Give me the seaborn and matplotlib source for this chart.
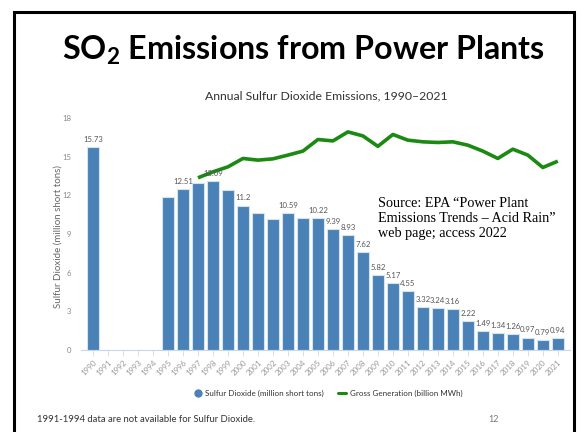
import numpy as np
import pandas as pd
import matplotlib
matplotlib.use("Agg")
import matplotlib.pyplot as plt
from matplotlib.lines import Line2D
from matplotlib.patches import Rectangle
import seaborn as sns

# Annual SO2 emissions (million short tons); 1991-1994 not available
years = list(range(1990, 2022))
so2 = [15.73, np.nan, np.nan, np.nan, np.nan, 11.87, 12.51, 12.96, 13.09, 12.45,
       11.2, 10.63, 10.19, 10.59, 10.26, 10.22, 9.39, 8.93, 7.62, 5.82,
       5.17, 4.55, 3.32, 3.24, 3.16, 2.22, 1.49, 1.34, 1.26, 0.97,
       0.79, 0.94]
# Bars that carry a value label
labelled_years = [1990, 1996, 1998, 2000, 2003, 2005, 2006, 2007, 2008, 2009,
                  2010, 2011, 2012, 2013, 2014, 2015, 2016, 2017, 2018, 2019,
                  2020, 2021]

# Gross generation trend, drawn on the chart's vertical scale
gen_years = list(range(1997, 2022))
gen = [13.36, 13.82, 14.21, 14.86, 14.73, 14.83, 15.12, 15.43, 16.33, 16.22,
       16.92, 16.61, 15.80, 16.72, 16.28, 16.15, 16.10, 16.15, 15.89, 15.43,
       14.86, 15.58, 15.12, 14.16, 14.65]

y_ticks = [0, 3, 6, 9, 12, 15, 18]

BAR = "#4a81b6"
GREEN = "#1a8a12"
GRID_GRAY = "#888888"

sns.set_style("white")
plt.rcParams["font.family"] = ["Lato", "DejaVu Sans"]
plt.rcParams["mathtext.fontset"] = "custom"
plt.rcParams["mathtext.rm"] = "Lato:bold"
plt.rcParams["mathtext.it"] = "Lato:bold"
plt.rcParams["mathtext.bf"] = "Lato:bold"

fig = plt.figure(figsize=(5.85, 4.32), dpi=100)
ax = fig.add_axes([0.1385, 0.1898, 0.8355, 0.5371])

year_labels = [str(y) for y in years]
df = pd.DataFrame({"year": year_labels, "so2": so2}).dropna()

sns.barplot(data=df, x="year", y="so2", order=year_labels, color=BAR,
            saturation=1, width=0.8, edgecolor="#d5e2f0", linewidth=0.8, ax=ax)

# generation line on category positions
gen_pos = [years.index(y) for y in gen_years]
sns.lineplot(x=gen_pos, y=gen, color=GREEN, linewidth=2.6, ax=ax,
             solid_capstyle="butt")

# value labels above bars
for y, v in zip(years, so2):
    if y in labelled_years:
        ax.annotate(f"{v:g}", (years.index(y), v), xytext=(0, 3),
                    textcoords="offset points", ha="center", va="bottom",
                    fontsize=5.6, color="#555555")

ax.set_xlim(-0.8, 31.8)
ax.set_ylim(0, 18)
ax.set_yticks(y_ticks)
ax.set_yticklabels([str(t) for t in y_ticks], fontsize=5.6, color=GRID_GRAY)
ax.tick_params(axis="y", length=0, pad=7)
ax.set_xticks(range(len(years)))
ax.set_xticklabels(year_labels, rotation=45, ha="right", rotation_mode="anchor",
                   fontsize=5.8, color="#999999")
ax.tick_params(axis="x", length=4, width=0.6, color="#d0dbe8", pad=2,
               bottom=True)
ax.set_xlabel("")
ax.set_ylabel("Sulfur Dioxide (million short tons)", fontsize=7,
              color="#666666", va="center", ha="center")
ax.yaxis.set_label_coords(-0.047, 0.49)
for s in ["top", "right", "left"]:
    ax.spines[s].set_visible(False)
ax.spines["bottom"].set_color("#c8d6e8")
ax.spines["bottom"].set_linewidth(0.8)

# titles
fig.text(0.518, 0.884, r"SO$_2$ Emissions from Power Plants", ha="center",
         va="center", fontsize=23.2, fontweight="bold", color="black")
fig.text(0.557, 0.778, "Annual Sulfur Dioxide Emissions, 1990\u20132021",
         ha="center", va="center", fontsize=8.8, color="#333333")

# source note
fig.text(0.646, 0.543,
         "Source: EPA \u201cPower Plant\nEmissions Trends \u2013 Acid Rain\u201d\nweb page; access 2022",
         ha="left", va="top", fontsize=10.2, family="Liberation Serif",
         color="black", linespacing=1.2)

# legend
handles = [
    Line2D([], [], marker="o", linestyle="none", markersize=5,
           markerfacecolor=BAR, markeredgecolor=BAR),
    Line2D([], [], color=GREEN, linewidth=2.2),
]
fig.legend(handles, ["Sulfur Dioxide (million short tons)",
                     "Gross Generation (billion MWh)"],
           loc="center", bbox_to_anchor=(0.561, 0.09), ncol=2, frameon=False,
           fontsize=5.8, handlelength=0.9, handletextpad=0.5,
           columnspacing=1.8, labelcolor="#333333")

# footer
fig.text(0.063, 0.028, "1991-1994 data are not available for Sulfur Dioxide.",
         ha="left", va="center", fontsize=6.8, color="#333333")
fig.text(0.843, 0.028, "12", ha="center", va="center", fontsize=6.5,
         color="#777777")

# slide frame
fig.patches.append(Rectangle((0.0235, -0.05), 0.958, 1.022,
                             transform=fig.transFigure, fill=False,
                             edgecolor="black", linewidth=2.2))

fig.savefig("out.png", dpi=100)
